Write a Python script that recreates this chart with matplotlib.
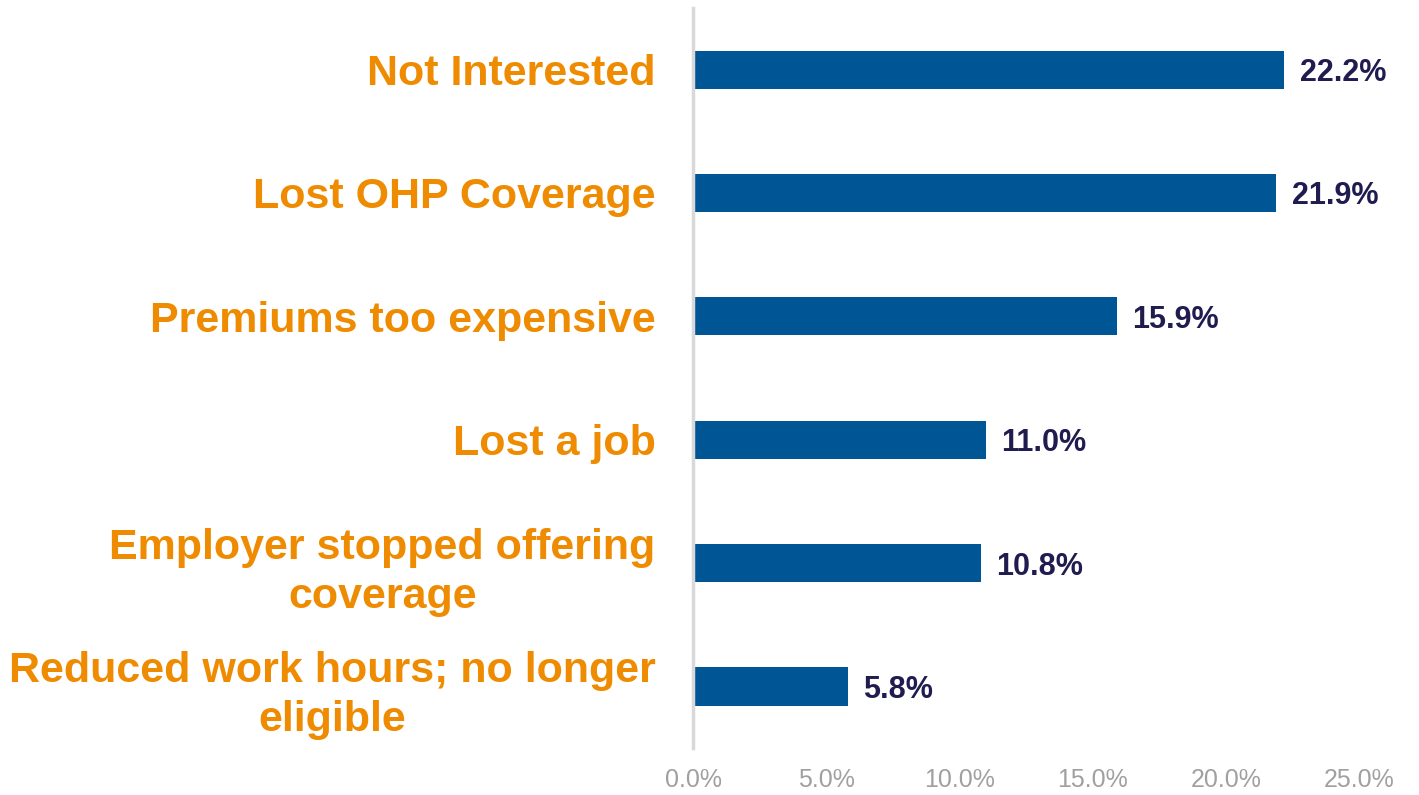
import matplotlib.pyplot as plt
from matplotlib.ticker import FuncFormatter

# reasons, bottom to top
reasons = ["Reduced work hours; no longer\neligible",
           "Employer stopped offering\ncoverage",
           "Lost a job",
           "Premiums too expensive",
           "Lost OHP Coverage",
           "Not Interested"]
shares = [5.8, 10.8, 11.0, 15.9, 21.9, 22.2]
xticks = [0, 5, 10, 15, 20, 25]

orange = "#EE8B00"
bar_blue = "#005594"
navy = "#211C50"
grey = "#A0A0A0"

plt.rcParams['font.family'] = ['Liberation Sans', 'DejaVu Sans']

fig = plt.figure(figsize=(14.19, 7.95), dpi=100)
ax = fig.add_axes([0.4884, 0.059, 0.4693, 0.931])

ypos = list(range(len(reasons)))
ax.barh(ypos, shares, height=0.31, color=bar_blue)

for y, v in zip(ypos, shares):
    ax.annotate(f"{v:.1f}%", (v, y), xytext=(11, 0), textcoords="offset points",
                va="center_baseline", ha="left", fontsize=22, fontweight="bold", color=navy)

ax.set_xlim(0, 25)
ax.set_ylim(-0.5, 5.5)
ax.set_xticks(xticks)
ax.xaxis.set_major_formatter(FuncFormatter(lambda v, p: f"{v:.1f}%"))
ax.tick_params(axis="x", length=0, labelsize=18, labelcolor=grey, pad=14)

ax.set_yticks(ypos)
ax.set_yticklabels(reasons, fontsize=31, fontweight="bold", color=orange,
                   multialignment="center", linespacing=1.3)
ax.tick_params(axis="y", length=0, pad=27)

for s in ["top", "right", "bottom"]:
    ax.spines[s].set_visible(False)
ax.spines["left"].set_color("#D9D9D9")
ax.spines["left"].set_linewidth(2.5)

fig.savefig("out.png", dpi=100)
